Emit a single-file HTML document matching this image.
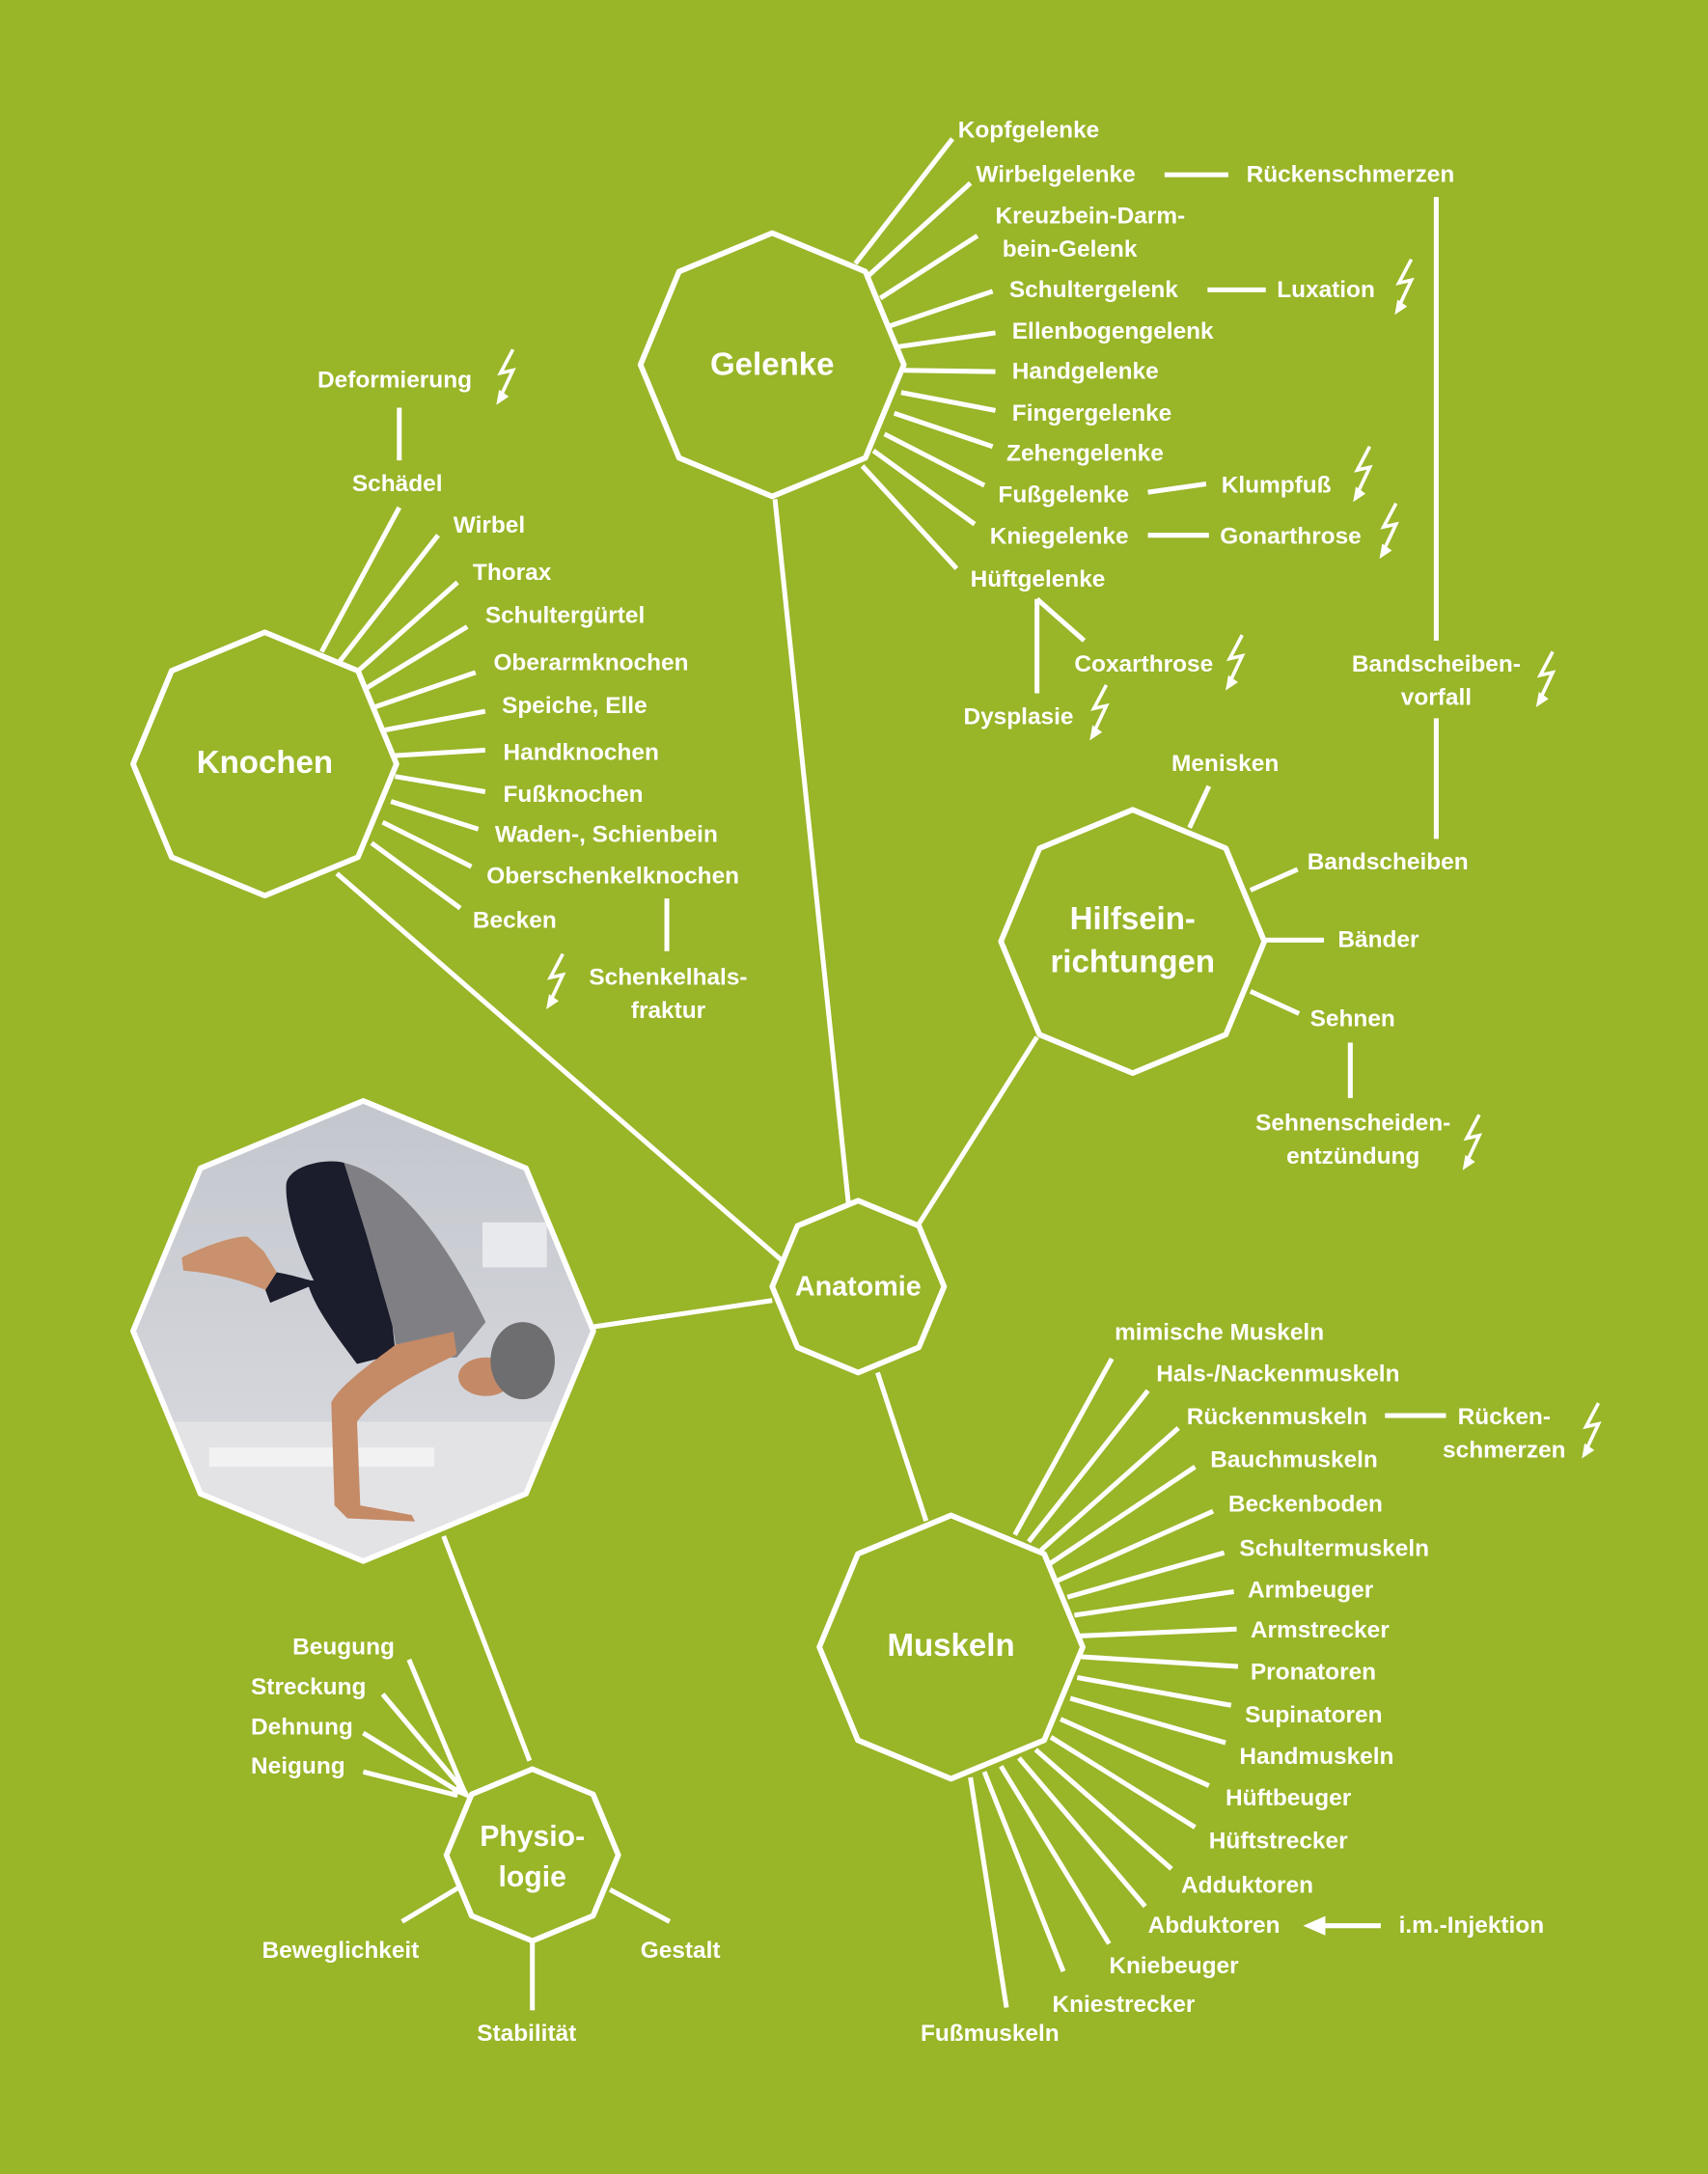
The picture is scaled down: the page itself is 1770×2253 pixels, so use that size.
<!DOCTYPE html>
<html><head><meta charset="utf-8"><style>
html,body{margin:0;padding:0;background:#99b528}
svg{display:block}
text{font-family:"Liberation Sans",sans-serif;font-weight:bold;fill:#fff;font-size:17px;dominant-baseline:central}
.t{font-size:23px;text-anchor:middle}
.m{text-anchor:middle}
</style></head><body>
<svg width="1770" height="2253" viewBox="0 0 1232 1568" xmlns="http://www.w3.org/2000/svg">
<defs>
<g id="b"><polyline points="13,0 4,17 13,15 5,32" fill="none" stroke="#fff" stroke-width="2.5" stroke-linejoin="miter"/><polygon points="1,40 3,29 10,34" fill="#fff"/></g>
<clipPath id="cp"><polygon points="262,794 379.4,842.6 428,960 379.4,1077.4 262,1126 144.6,1077.4 96,960 144.6,842.6"/></clipPath>
<linearGradient id="bg" x1="0" y1="0" x2="0" y2="1"><stop offset="0" stop-color="#c3c6cd"/><stop offset="1" stop-color="#dcdde2"/></linearGradient>
</defs>
<rect width="1232" height="1568" fill="#99b528"/>

<!-- photo -->
<g clip-path="url(#cp)">
<rect x="90" y="790" width="345" height="340" fill="url(#bg)"/>
<g transform="scale(0.69604) translate(140,1140) scale(0.33333)">
<rect x="0" y="1000" width="1440" height="440" fill="#e3e3e5"/>
<rect x="1080" y="380" width="200" height="140" fill="#e8e9ec"/>
<rect x="230" y="1080" width="700" height="60" fill="#f2f2f2"/>
<path d="M470,260 C480,200 600,180 650,195 L720,420 L800,700 L810,790 L690,820 C600,700 560,640 540,580 L420,630 L405,590 L440,535 C500,545 550,565 555,560 C500,450 465,330 470,260Z" fill="#1b1d2c"/>
<path d="M650,195 C800,230 950,400 1090,690 L1000,800 L940,800 L810,760 L800,700 L720,420 Z" fill="#808084"/>
<path d="M810,760 C760,800 640,880 610,940 L620,1260 L660,1300 L870,1310 L860,1290 L700,1260 L690,1000 C760,900 900,840 1000,790 L990,720 Z" fill="#c58a66"/>
<path d="M145,490 C180,470 300,420 350,425 L400,470 L440,535 L405,590 C330,560 260,540 150,530 Z" fill="#c9916d"/>
<ellipse cx="1090" cy="860" rx="85" ry="60" fill="#c48a68"/>
<ellipse cx="1205" cy="810" rx="100" ry="120" fill="#6e6e70"/>
</g>
</g>
<g fill="none" stroke="#fff" stroke-width="4" stroke-linejoin="round" stroke-linecap="butt">
<polygon points="262,794 379.4,842.6 428,960 379.4,1077.4 262,1126 144.6,1077.4 96,960 144.6,842.6"/>
<polygon points="557,168 624.2,195.8 652,263 624.2,330.2 557,358 489.8,330.2 462,263 489.8,195.8"/>
<polygon points="191,456 258.2,483.8 286,551 258.2,618.2 191,646 123.8,618.2 96,551 123.8,483.8"/>
<polygon points="817,584 884.2,611.8 912,679 884.2,746.2 817,774 749.8,746.2 722,679 749.8,611.8"/>
<polygon points="686,1093 753.2,1120.8 781,1188 753.2,1255.2 686,1283 618.8,1255.2 591,1188 618.8,1120.8"/>
<polygon points="619,866 662.8,884.2 681,928 662.8,971.8 619,990 575.2,971.8 557,928 575.2,884.2"/>
<polygon points="384,1276 427.8,1294.2 446,1338 427.8,1381.8 384,1400 340.2,1381.8 322,1338 340.2,1294.2"/>
</g>
<g stroke="#fff" stroke-width="3.5" fill="none">
<!-- main connectors -->
<line x1="559" y1="360" x2="612" y2="868"/>
<line x1="243" y1="630" x2="565" y2="910"/>
<line x1="748" y1="748" x2="662" y2="884"/>
<line x1="633" y1="990" x2="668" y2="1097"/>
<line x1="428" y1="957" x2="557" y2="938"/>
<line x1="320" y1="1108" x2="382" y2="1270"/>
<!-- Gelenke -->
<line x1="617" y1="190" x2="687" y2="100"/>
<line x1="625" y1="200" x2="700" y2="132"/>
<line x1="840" y1="126" x2="886" y2="126"/>
<line x1="1036" y1="142" x2="1036" y2="462"/>
<line x1="1036" y1="518" x2="1036" y2="605"/>
<line x1="635" y1="215" x2="705" y2="170"/>
<line x1="642" y1="235" x2="716" y2="210"/>
<line x1="871" y1="209" x2="913" y2="209"/>
<line x1="648" y1="250" x2="718" y2="240"/>
<line x1="652" y1="267" x2="718" y2="268"/>
<line x1="650" y1="283" x2="718" y2="296"/>
<line x1="645" y1="298" x2="716" y2="322"/>
<line x1="638" y1="313" x2="710" y2="350"/>
<line x1="828" y1="355" x2="870" y2="349"/>
<line x1="630" y1="325" x2="703" y2="378"/>
<line x1="828" y1="386" x2="872" y2="386"/>
<line x1="622" y1="336" x2="690" y2="410"/>
<line x1="748" y1="432" x2="748" y2="500"/>
<line x1="748" y1="432" x2="782" y2="462"/>
<!-- Knochen -->
<line x1="288" y1="294" x2="288" y2="332"/>
<line x1="232" y1="470" x2="288" y2="366"/>
<line x1="245" y1="477" x2="316" y2="386"/>
<line x1="257" y1="485" x2="330" y2="420"/>
<line x1="263" y1="497" x2="337" y2="452"/>
<line x1="270" y1="510" x2="343" y2="485"/>
<line x1="275" y1="527" x2="350" y2="513"/>
<line x1="284" y1="545" x2="350" y2="541"/>
<line x1="285" y1="560" x2="350" y2="571"/>
<line x1="282" y1="578" x2="345" y2="598"/>
<line x1="276" y1="593" x2="340" y2="625"/>
<line x1="268" y1="608" x2="332" y2="655"/>
<line x1="481" y1="648" x2="481" y2="686"/>
<!-- Hilfs -->
<line x1="858" y1="597" x2="872" y2="567"/>
<line x1="902" y1="642" x2="936" y2="627"/>
<line x1="913" y1="678" x2="955" y2="678"/>
<line x1="902" y1="715" x2="937" y2="731"/>
<line x1="974" y1="752" x2="974" y2="792"/>
<!-- Muskeln -->
<line x1="732" y1="1107" x2="802" y2="980"/>
<line x1="742" y1="1112" x2="828" y2="1003"/>
<line x1="751" y1="1118" x2="850" y2="1030"/>
<line x1="999" y1="1021" x2="1043" y2="1021"/>
<line x1="757" y1="1128" x2="862" y2="1058"/>
<line x1="763" y1="1140" x2="875" y2="1090"/>
<line x1="770" y1="1152" x2="883" y2="1120"/>
<line x1="775" y1="1165" x2="890" y2="1148"/>
<line x1="778" y1="1180" x2="892" y2="1175"/>
<line x1="780" y1="1195" x2="893" y2="1202"/>
<line x1="777" y1="1210" x2="888" y2="1230"/>
<line x1="772" y1="1225" x2="884" y2="1257"/>
<line x1="765" y1="1240" x2="872" y2="1288"/>
<line x1="758" y1="1253" x2="862" y2="1318"/>
<line x1="747" y1="1262" x2="845" y2="1348"/>
<line x1="735" y1="1268" x2="826" y2="1375"/>
<line x1="996" y1="1389" x2="950" y2="1389"/>
<line x1="722" y1="1274" x2="800" y2="1402"/>
<line x1="710" y1="1278" x2="767" y2="1422"/>
<line x1="700" y1="1282" x2="726" y2="1448"/>
<!-- Physio -->
<line x1="295" y1="1197" x2="334" y2="1290"/>
<line x1="276" y1="1222" x2="334" y2="1291"/>
<line x1="262" y1="1250" x2="332" y2="1293"/>
<line x1="262" y1="1278" x2="330" y2="1295"/>
<line x1="290" y1="1386" x2="330" y2="1362"/>
<line x1="440" y1="1363" x2="483" y2="1386"/>
<line x1="384" y1="1400" x2="384" y2="1450"/>
</g>
<polygon points="940,1389 956,1382 956,1396" fill="#fff"/>
<polygon points="340,1298 326,1292 333,1284" fill="#fff"/>

<use href="#b" transform="translate(357,252)"/>
<use href="#b" transform="translate(1005,187)"/>
<use href="#b" transform="translate(975,322)"/>
<use href="#b" transform="translate(994,363)"/>
<use href="#b" transform="translate(883,458)"/>
<use href="#b" transform="translate(785,494)"/>
<use href="#b" transform="translate(1107,470)"/>
<use href="#b" transform="translate(393,688)"/>
<use href="#b" transform="translate(1054,804)"/>
<use href="#b" transform="translate(1140,1012)"/>

<text class="t" x="557" y="263">Gelenke</text>
<text class="t" x="191" y="550">Knochen</text>
<text class="t" x="817" y="663">Hilfsein-</text>
<text class="t" x="817" y="694">richtungen</text>
<text class="t" x="686" y="1187">Muskeln</text>
<text class="m" x="619" y="928" style="font-size:20px">Anatomie</text>
<text class="m" x="384" y="1325" style="font-size:21px">Physio-</text>
<text class="m" x="384" y="1354" style="font-size:21px">logie</text>

<text x="691" y="94">Kopfgelenke</text>
<text x="704" y="126">Wirbelgelenke</text>
<text x="899" y="126">Rückenschmerzen</text>
<text x="718" y="156">Kreuzbein-Darm-</text>
<text x="723" y="180">bein-Gelenk</text>
<text x="728" y="209">Schultergelenk</text>
<text x="921" y="209">Luxation</text>
<text x="730" y="239">Ellenbogengelenk</text>
<text x="730" y="268">Handgelenke</text>
<text x="730" y="298">Fingergelenke</text>
<text x="726" y="327">Zehengelenke</text>
<text x="720" y="357">Fußgelenke</text>
<text x="881" y="350">Klumpfuß</text>
<text x="714" y="387">Kniegelenke</text>
<text x="880" y="387">Gonarthrose</text>
<text x="700" y="418">Hüftgelenke</text>
<text x="775" y="479">Coxarthrose</text>
<text x="695" y="517">Dysplasie</text>
<text class="m" x="1036" y="479">Bandscheiben-</text>
<text class="m" x="1036" y="503">vorfall</text>

<text x="229" y="274">Deformierung</text>
<text x="254" y="349">Schädel</text>
<text x="327" y="379">Wirbel</text>
<text x="341" y="413">Thorax</text>
<text x="350" y="444">Schultergürtel</text>
<text x="356" y="478">Oberarmknochen</text>
<text x="362" y="509">Speiche, Elle</text>
<text x="363" y="543">Handknochen</text>
<text x="363" y="573">Fußknochen</text>
<text x="357" y="602">Waden-, Schienbein</text>
<text x="351" y="632">Oberschenkelknochen</text>
<text x="341" y="664">Becken</text>
<text class="m" x="482" y="705">Schenkelhals-</text>
<text class="m" x="482" y="729">fraktur</text>

<text x="845" y="551">Menisken</text>
<text x="943" y="622">Bandscheiben</text>
<text x="965" y="678">Bänder</text>
<text x="945" y="735">Sehnen</text>
<text class="m" x="976" y="810">Sehnenscheiden-</text>
<text class="m" x="976" y="834">entzündung</text>

<text x="804" y="961">mimische Muskeln</text>
<text x="834" y="991">Hals-/Nackenmuskeln</text>
<text x="856" y="1022">Rückenmuskeln</text>
<text class="m" x="1085" y="1022">Rücken-</text>
<text class="m" x="1085" y="1046">schmerzen</text>
<text x="873" y="1053">Bauchmuskeln</text>
<text x="886" y="1085">Beckenboden</text>
<text x="894" y="1117">Schultermuskeln</text>
<text x="900" y="1147">Armbeuger</text>
<text x="902" y="1176">Armstrecker</text>
<text x="902" y="1206">Pronatoren</text>
<text x="898" y="1237">Supinatoren</text>
<text x="894" y="1267">Handmuskeln</text>
<text x="884" y="1297">Hüftbeuger</text>
<text x="872" y="1328">Hüftstrecker</text>
<text x="852" y="1360">Adduktoren</text>
<text x="828" y="1389">Abduktoren</text>
<text x="1009" y="1389">i.m.-Injektion</text>
<text x="800" y="1418">Kniebeuger</text>
<text x="759" y="1446">Kniestrecker</text>
<text x="664" y="1467">Fußmuskeln</text>

<text x="211" y="1188">Beugung</text>
<text x="181" y="1217">Streckung</text>
<text x="181" y="1246">Dehnung</text>
<text x="181" y="1274">Neigung</text>
<text x="189" y="1407">Beweglichkeit</text>
<text x="462" y="1407">Gestalt</text>
<text x="344" y="1467">Stabilität</text>
</svg>
</body></html>
